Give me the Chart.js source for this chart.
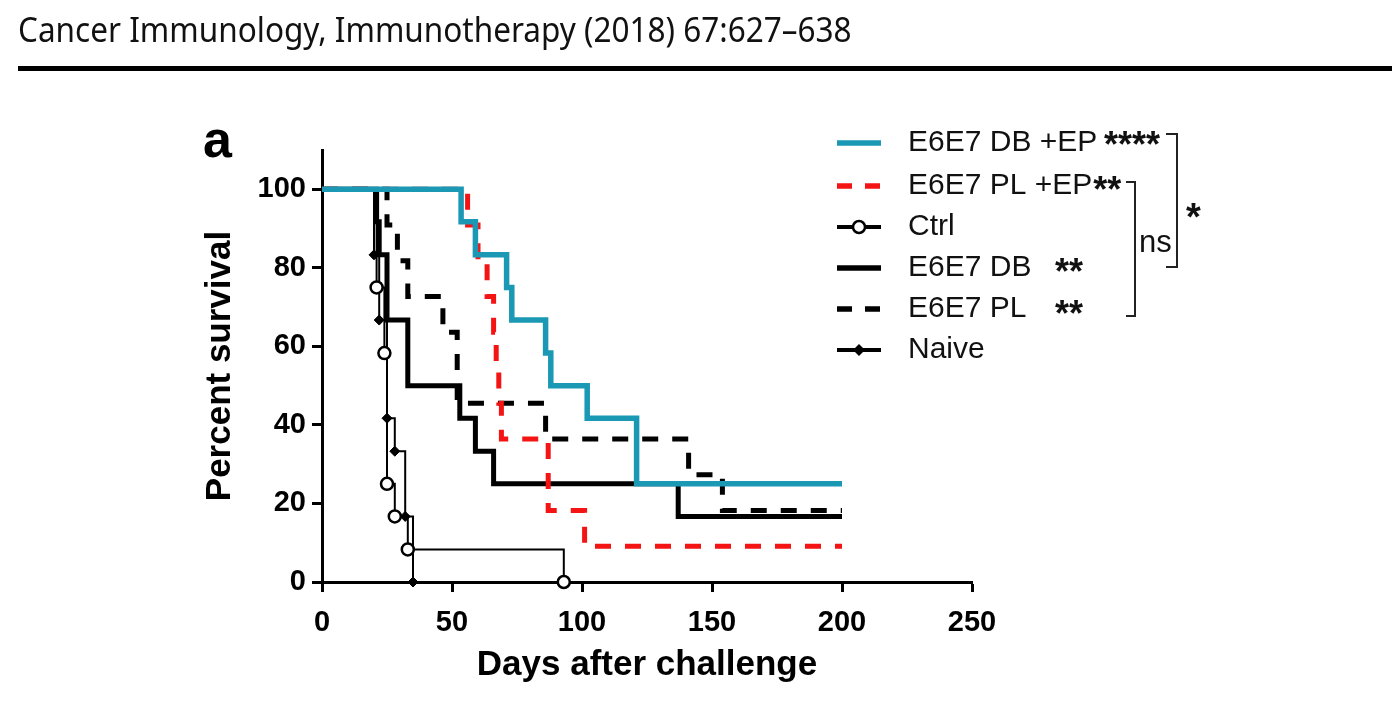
<!DOCTYPE html>
<html>
<head>
<meta charset="utf-8">
<script src="https://cdn.jsdelivr.net/npm/chart.js@4.4.1/dist/chart.umd.min.js"></script>
<style>
  html, body { margin: 0; padding: 0; background: #fff; width: 1392px; height: 718px; overflow: hidden; }
  #wrap { position: relative; width: 1392px; height: 718px; }
  #chart { position: absolute; left: 0; top: 0; }
  #header { position: absolute; left: 18px; top: 12px; font-family: "Noto Sans", sans-serif; font-size: 34px; line-height: 34px; color: #111; white-space: nowrap; transform-origin: left top; }
  #rule { position: absolute; left: 18px; top: 66px; width: 1374px; height: 5px; background: #000; }
</style>
</head>
<body>
<div id="wrap">
  <canvas id="chart" width="1392" height="718"></canvas>
  <div id="header">Cancer Immunology, Immunotherapy (2018) 67:627–638</div>
  <div id="rule"></div>
</div>
<script>
// ---- Data ----
const seriesNames = ['E6E7 DB +EP', 'E6E7 PL +EP', 'Ctrl', 'E6E7 DB', 'E6E7 PL', 'Naive'];
const sigLabels = ['****', '**', '', '**', '**', ''];

const dbEpDays = [0, 53.5, 59, 71, 73, 86, 88, 102, 121, 200];
const dbEpSurv = [100, 91.7, 83.3, 75, 66.7, 58.3, 50, 41.7, 25, 25];

const plEpDays = [0, 56, 60, 63.5, 66, 67, 68, 69, 87, 101, 200];
const plEpSurv = [100, 90.9, 81.8, 72.7, 63.6, 54.5, 45.5, 36.4, 18.2, 9.1, 9.1];

const ctrlDays = [0, 21, 24, 25, 28, 33, 93];
const ctrlSurv = [100, 75, 58.3, 25, 16.7, 8.3, 0];

const dbDays = [0, 21, 22, 25, 33, 53, 59, 66, 137, 200];
const dbSurv = [100, 91.7, 83.3, 66.7, 50, 41.7, 33.3, 25, 16.7, 16.7];

const plDays = [0, 25, 29, 33, 46.5, 52, 86, 141, 154, 200];
const plSurv = [100, 90.9, 81.8, 72.7, 63.6, 45.5, 36.4, 27.3, 18.2, 18.2];

const naiveDays = [0, 20, 22, 25, 28, 32, 35];
const naiveSurv = [100, 83.3, 66.7, 41.7, 33.3, 16.7, 0];

const xTicks = [0, 50, 100, 150, 200, 250];
const yTicks = [0, 20, 40, 60, 80, 100];

// ---- helpers ----
const pts = (d, s) => d.map((x, i) => ({ x: x, y: s[i] }));
const FONT = '"Liberation Sans", Arial, sans-serif';
const TEAL = '#1b98b3';
const RED = '#f41414';

const datasets = [
  { label: seriesNames[0], data: pts(dbEpDays, dbEpSurv), borderColor: TEAL, borderWidth: 5.5, pointRadius: 0 },
  { label: seriesNames[1], data: pts(plEpDays, plEpSurv), borderColor: RED, borderWidth: 5, borderDash: [16, 14], pointRadius: 0 },
  { label: seriesNames[2], data: pts(ctrlDays, ctrlSurv), borderColor: '#000', borderWidth: 2, pointStyle: 'circle',
    pointRadius: ctrlDays.map((d, i) => i === 0 ? 0 : 6), pointBorderWidth: 2.5, pointBackgroundColor: '#fff', pointBorderColor: '#000' },
  { label: seriesNames[3], data: pts(dbDays, dbSurv), borderColor: '#000', borderWidth: 5, pointRadius: 0 },
  { label: seriesNames[4], data: pts(plDays, plSurv), borderColor: '#000', borderWidth: 5, borderDash: [16, 14], pointRadius: 0 },
  { label: seriesNames[5], data: pts(naiveDays, naiveSurv), borderColor: '#000', borderWidth: 2, pointStyle: 'rectRot',
    pointRadius: naiveDays.map((d, i) => i === 0 ? 0 : 5), pointBackgroundColor: '#000', pointBorderColor: '#000', pointBorderWidth: 1 }
];
datasets.forEach(ds => { ds.stepped = 'before'; ds.fill = false; ds.clip = false; ds.borderCapStyle = 'butt'; ds.borderJoinStyle = 'miter'; });

const annotPlugin = {
  id: 'annot',
  afterDraw(chart) {
    const ctx = chart.ctx;
    ctx.save();
    // panel letter
    ctx.fillStyle = '#000';
    ctx.font = 'bold 52px ' + FONT;
    ctx.textBaseline = 'alphabetic';
    ctx.textAlign = 'left';
    ctx.fillText('a', 203, 157);

    // legend
    const rows = [143, 186, 227, 268, 309, 350];
    const starX = [1104, null, null, 1055, 1055, null];
    const starBase = [157, 202, null, 284, 326, null];
    chart.data.datasets.forEach((ds, i) => {
      const y = rows[i];
      ctx.save();
      ctx.strokeStyle = ds.borderColor;
      ctx.lineWidth = ds.pointStyle ? 4 : 5.5;
      ctx.lineCap = 'butt';
      ctx.setLineDash(ds.borderDash ? [15, 13] : []);
      ctx.beginPath(); ctx.moveTo(837, y); ctx.lineTo(881, y); ctx.stroke();
      ctx.setLineDash([]);
      if (ds.pointStyle === 'circle') {
        ctx.beginPath(); ctx.arc(859, y, 6, 0, Math.PI * 2);
        ctx.fillStyle = '#fff'; ctx.fill(); ctx.lineWidth = 2.5; ctx.strokeStyle = '#000'; ctx.stroke();
      } else if (ds.pointStyle === 'rectRot') {
        ctx.beginPath(); ctx.moveTo(859, y - 6); ctx.lineTo(865, y); ctx.lineTo(859, y + 6); ctx.lineTo(853, y); ctx.closePath();
        ctx.fillStyle = '#000'; ctx.fill();
      }
      ctx.fillStyle = '#111';
      ctx.font = '30px ' + FONT;
      ctx.textBaseline = 'middle';
      ctx.textAlign = 'left';
      ctx.fillText(ds.label, 908, y);
      const w = ctx.measureText(ds.label).width;
      if (sigLabels[i]) {
        ctx.font = 'bold 36px ' + FONT;
        ctx.textBaseline = 'alphabetic';
        const sx = starX[i] !== null ? starX[i] : 908 + w + 1;
        ctx.fillText(sigLabels[i], sx, starBase[i]);
      }
      ctx.restore();
    });

    // brackets
    ctx.strokeStyle = '#222';
    ctx.lineWidth = 2;
    ctx.beginPath();
    ctx.moveTo(1166, 134); ctx.lineTo(1177, 134); ctx.lineTo(1177, 267); ctx.lineTo(1166, 267);
    ctx.stroke();
    ctx.beginPath();
    ctx.moveTo(1126, 182); ctx.lineTo(1135, 182); ctx.lineTo(1135, 316); ctx.lineTo(1126, 316);
    ctx.stroke();
    ctx.fillStyle = '#111';
    ctx.font = '31px ' + FONT;
    ctx.textBaseline = 'alphabetic';
    ctx.fillText('ns', 1139, 252);
    ctx.font = 'bold 38px ' + FONT;
    ctx.fillText('*', 1186, 230);
    ctx.restore();
  }
};

new Chart(document.getElementById('chart'), {
  type: 'line',
  data: { datasets: datasets },
  plugins: [annotPlugin],
  options: {
    responsive: false,
    animation: false,
    events: [],
    devicePixelRatio: 1,
    layout: { padding: { top: 150, right: 420, left: 0, bottom: 0 } },
    plugins: { legend: { display: false }, tooltip: { enabled: false }, title: { display: false } },
    scales: {
      x: {
        type: 'linear', min: 0, max: 250,
        afterFit: s => { s.height = 136; },
        afterBuildTicks: s => { s.ticks = xTicks.map(v => ({ value: v })); },
        border: { display: true, color: '#000', width: 3 },
        grid: { display: true, drawOnChartArea: false, drawTicks: true, tickLength: 10, tickWidth: 3, tickColor: '#000' },
        ticks: { color: '#000', font: { family: FONT, size: 29, weight: 'bold' }, padding: 14, maxRotation: 0 },
        title: { display: true, text: 'Days after challenge', color: '#000', font: { family: FONT, size: 35, weight: 'bold' }, padding: { top: 0, bottom: 32 } }
      },
      y: {
        type: 'linear', min: 0, max: 110,
        afterFit: s => { s.width = 322; },
        afterBuildTicks: s => { s.ticks = yTicks.map(v => ({ value: v })); },
        border: { display: true, color: '#000', width: 3 },
        grid: { display: true, drawOnChartArea: false, drawTicks: true, tickLength: 10, tickWidth: 3, tickColor: '#000' },
        ticks: { color: '#000', font: { family: FONT, size: 29, weight: 'bold' }, padding: 6 },
        title: { display: true, text: 'Percent survival', color: '#000', font: { family: FONT, size: 35, weight: 'bold' }, padding: { top: 199, bottom: 0 } }
      }
    }
  }
});

// fit header width to reference
const h = document.getElementById('header');
const k = 834 / h.offsetWidth;
h.style.transform = 'scaleX(' + k + ')';
</script>
</body>
</html>
